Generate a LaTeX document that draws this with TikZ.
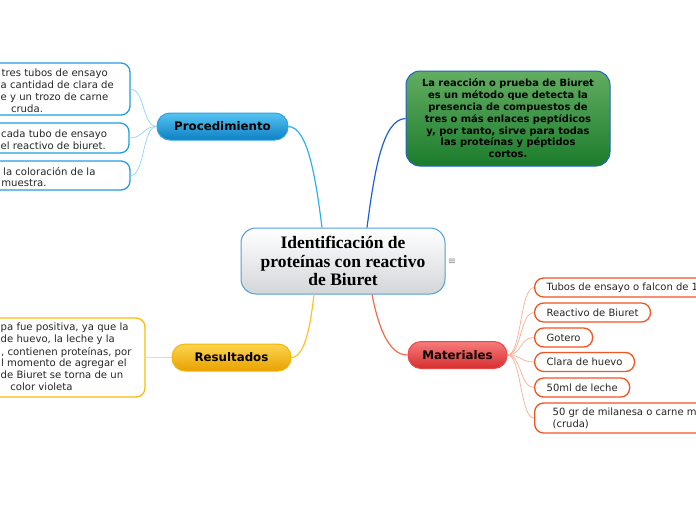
\documentclass[tikz,border=0pt]{standalone}
\usepackage{fontspec}
\setmainfont{DejaVu Sans}
\newfontfamily\titlefont{Liberation Serif}
\definecolor{cborder}{HTML}{4F9FD6}
\definecolor{cgray}{HTML}{D3D6D8}
\definecolor{procTop}{HTML}{56C3F2}
\definecolor{procBot}{HTML}{0D80C4}
\definecolor{procBorder}{HTML}{2AA3DF}
\definecolor{pchildBorder}{HTML}{1F9FE2}
\definecolor{pchildConn}{HTML}{8DD4F6}
\definecolor{pConn}{HTML}{2EB0EE}
\definecolor{greenTop}{HTML}{62AD62}
\definecolor{greenBot}{HTML}{1C7C2C}
\definecolor{greenBorder}{HTML}{1F62C9}
\definecolor{gConn}{HTML}{1F5FD6}
\definecolor{resTop}{HTML}{FCD54E}
\definecolor{resBot}{HTML}{E8A100}
\definecolor{resBorder}{HTML}{F6B500}
\definecolor{rchildBorder}{HTML}{FBBB0A}
\definecolor{rConn}{HTML}{FCC12C}
\definecolor{rchildConn}{HTML}{FCDC8C}
\definecolor{matTop}{HTML}{F77C7C}
\definecolor{matBot}{HTML}{D62E2E}
\definecolor{matBorder}{HTML}{E94848}
\definecolor{mchildBorder}{HTML}{F25423}
\definecolor{mConn}{HTML}{F46C4C}
\definecolor{mchildConn}{HTML}{F9AD92}
\begin{document}
\begin{tikzpicture}[x=1pt,y=-1pt,
  central/.style={draw=cborder, line width=1pt, rounded corners=15pt, top color=white, bottom color=cgray,
    minimum width=204pt, minimum height=66pt, align=center, inner sep=0pt,
    font=\titlefont\bfseries\fontsize{17.5}{18.5}\selectfont},
  cat/.style={line width=1pt, rounded corners=13pt, minimum height=27pt, inner sep=0pt,
    font=\bfseries\fontsize{11.8}{13}\selectfont, text=black},
  greenbox/.style={draw=greenBorder, line width=1pt, rounded corners=14pt, top color=greenTop, bottom color=greenBot,
    minimum width=204pt, minimum height=95pt, align=center, inner sep=0pt, text=black,
    font=\bfseries\fontsize{9.9}{11.8}\selectfont},
  childbox/.style={fill=white, line width=1.3pt, rounded corners=9pt, inner sep=0pt},
  ltxt/.style={inner sep=0pt, font=\fontsize{10.1}{13}\selectfont, text=black!85},
  mchild/.style={childbox, draw=mchildBorder, anchor=west, inner xsep=12pt, inner ysep=0pt,
    minimum height=19pt, align=left, font=\fontsize{10}{12}\selectfont, text=black!85},
  mainconn/.style={line width=1.2pt},
  childconn/.style={line width=0.7pt}
]
\useasboundingbox (0,0) rectangle (696,520);
\clip (0,0) rectangle (696,520);

% central topic
\node[central] (central) at (343,261) {Identificación de\\proteínas con reactivo\\de Biuret};
\node[font=\fontsize{10}{10}\selectfont, text=gray!90, inner sep=0pt] (icon) at (452,262) {≡};

% main topics
\node[cat, draw=procBorder, top color=procTop, bottom color=procBot, minimum width=131pt] (proc) at (222.5,126.5) {Procedimiento};
\node[cat, draw=resBorder, top color=resTop, bottom color=resBot, minimum width=119pt] (res) at (231.5,357.5) {Resultados};
\node[cat, draw=matBorder, top color=matTop, bottom color=matBot, minimum width=99pt] (mat) at (457.5,355) {Materiales};
\node[greenbox] (green) at (508,118.5) {La reacción o prueba de Biuret\\es un método que detecta la\\presencia de compuestos  de\\tres o más enlaces peptídicos\\y, por tanto, sirve para todas\\las proteínas y péptidos\\cortos.};

% main connectors
\draw[mainconn, pConn] (proc.east) .. controls (308,127) and (316,180) .. ([xshift=-21pt]central.north);
\draw[mainconn, gConn] ([xshift=24pt]central.north) .. controls (374,175) and (382,119) .. (green.west);
\draw[mainconn, rConn] (res.east) .. controls (306,357) and (311,320) .. ([xshift=-29pt]central.south);
\draw[mainconn, mConn] ([xshift=29pt]central.south) .. controls (378,325) and (388,355) .. (mat.west);

% procedimiento children
\node[childbox, draw=pchildBorder, minimum width=180pt, minimum height=52pt] (p1) at (40,89) {};
\node[childbox, draw=pchildBorder, minimum width=180pt, minimum height=30pt] (p2) at (39,138) {};
\node[childbox, draw=pchildBorder, minimum width=180pt, minimum height=29pt] (p3) at (40,175.5) {};
\foreach \c in {p1,p2,p3}
  \draw[childconn, pchildConn] (proc.west) .. controls +(-14,0) and +(14,0) .. (\c.east);
\node[ltxt, anchor=base west] (p1a) at (1.5,76) {tres tubos de ensayo};
\node[ltxt, anchor=base west] (p1b) at (0.5,88.5) {a cantidad de clara de};
\node[ltxt, anchor=base west] (p1c) at (0.5,100.5) {e y un trozo de carne};
\node[ltxt, anchor=base] (p1d) at (27,112.5) {cruda.};
\node[ltxt, anchor=base west] (p2a) at (1,137) {cada tubo de ensayo};
\node[ltxt, anchor=base west] (p2b) at (0.5,149) {el reactivo de biuret.};
\node[ltxt, anchor=base west] (p3a) at (3,175) {la coloración de la};
\node[ltxt, anchor=base] (p3b) at (24,186) {muestra.};

% resultados child
\node[childbox, draw=rchildBorder, minimum width=180pt, minimum height=79pt] (rc) at (55,357.5) {};
\draw[childconn, rchildConn] (res.west) -- (rc.east);
\node[ltxt, anchor=base west] (r1) at (0.5,330.5) {pa fue positiva, ya que la};
\node[ltxt, anchor=base west] (r2) at (0.5,342.5) {de huevo, la leche y la};
\node[ltxt, anchor=base west] (r3) at (1,355) {, contienen proteínas, por};
\node[ltxt, anchor=base west] (r4) at (1,366.5) {l momento de agregar el};
\node[ltxt, anchor=base west] (r5) at (0.5,378.5) {de Biuret se torna de un};
\node[ltxt, anchor=base] (r6) at (41.5,390.5) {color violeta};

% materiales children
\node[mchild] (m1) at (534,287.5) {Tubos de ensayo o falcon de 1};
\node[mchild] (m2) at (534,312.5) {Reactivo de Biuret};
\node[mchild] (m3) at (534,337.5) {Gotero};
\node[mchild] (m4) at (534,362) {Clara de huevo};
\node[mchild] (m5) at (534,387.5) {50ml de leche};
\node[mchild, inner xsep=18pt, minimum height=30pt] (m6) at (534,418) {50 gr de milanesa o carne m\\(cruda)};
\foreach \c in {m1,m2,m3,m4,m5,m6}
  \draw[childconn, mchildConn] (mat.east) .. controls +(14,0) and +(-14,0) .. (\c.west);
\end{tikzpicture}
\end{document}
